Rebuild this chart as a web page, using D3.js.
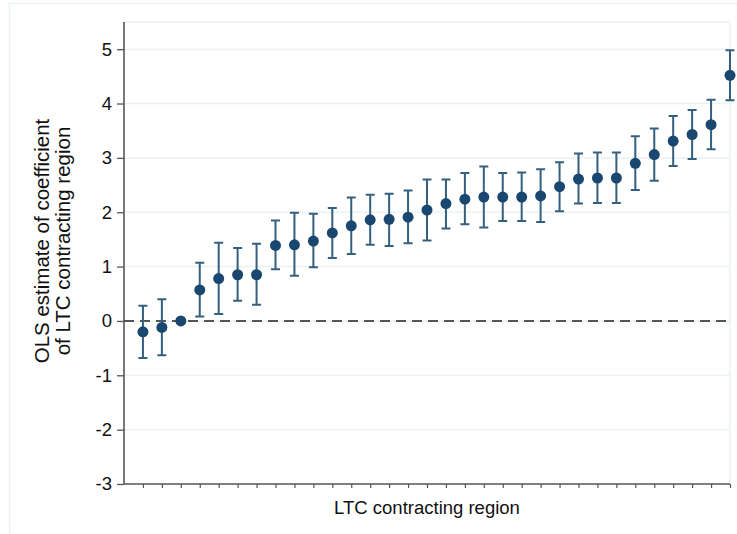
<!DOCTYPE html>
<html><head><meta charset="utf-8">
<script src="https://cdn.jsdelivr.net/npm/d3@7"></script>
<style>body{margin:0;background:#fff}svg{display:block;font-family:"Liberation Sans",Arial,sans-serif}</style>
</head><body><svg id="c" width="737" height="534"></svg>
<script>
const regions = d3.range(1, 33);
const estimates = [-0.20,-0.12,0.00,0.57,0.78,0.85,0.85,1.39,1.40,1.47,1.62,1.75,1.86,1.87,1.91,2.04,2.16,2.24,2.28,2.28,2.28,2.30,2.47,2.61,2.63,2.63,2.90,3.06,3.31,3.43,3.61,4.52];
const lowerCI = [-0.68,-0.63,0.00,0.08,0.13,0.37,0.30,0.95,0.83,0.99,1.16,1.23,1.40,1.38,1.43,1.48,1.70,1.78,1.72,1.84,1.84,1.82,2.02,2.16,2.17,2.17,2.41,2.58,2.85,2.98,3.16,4.06];
const upperCI = [0.28,0.40,0.00,1.07,1.44,1.34,1.42,1.85,1.99,1.97,2.08,2.27,2.32,2.34,2.40,2.60,2.60,2.72,2.84,2.72,2.73,2.79,2.92,3.08,3.10,3.10,3.40,3.54,3.77,3.88,4.07,4.98];
const yTicks = [-3,-2,-1,0,1,2,3,4,5];
const yTickLabels = ["-3","-2","-1","0","1","2","3","4","5"];
const xTitle = "LTC contracting region";
const yTitle = ["OLS estimate of coefficient", "of LTC contracting region"];

const svg = d3.select("#c");
const L = 124, R = 730, T = 22, B = 484;
const x = d3.scaleLinear().domain([0, 32]).range([L, R]);
const y = d3.scaleLinear().domain([-3, 5.5]).range([B, T]);
const grid = "#eaf2f3", navy = "#1a476f";

// outer frame
svg.append("rect").attr("x", 9.5).attr("y", 3.5).attr("width", 760).attr("height", 560)
  .attr("fill", "none").attr("stroke", grid).attr("stroke-width", 1.5);

// grid lines
svg.append("g").selectAll("line").data(yTicks.filter(t => t > -3)).join("line")
  .attr("x1", L).attr("x2", R).attr("y1", d => y(d)).attr("y2", d => y(d))
  .attr("stroke", grid).attr("stroke-width", 1.5);
// plot region border (top/right)
svg.append("path").attr("d", `M${L},${y(5.5)}H${R}V${B}`).attr("fill", "none")
  .attr("stroke", grid).attr("stroke-width", 1.5);

// zero dashed line
svg.append("line").attr("x1", L).attr("x2", R).attr("y1", y(0)).attr("y2", y(0))
  .attr("stroke", "#222").attr("stroke-width", 1.5).attr("stroke-dasharray", "10,6");

// y axis
const yAxis = d3.axisLeft(y).tickValues(yTicks).tickSize(7).tickPadding(5)
  .tickFormat((d, i) => yTickLabels[i]);
const gy = svg.append("g").attr("transform", `translate(${L},0)`).call(yAxis);
gy.select(".domain").attr("stroke", "#555").attr("stroke-width", 1.6).attr("d", `M0,${B}V${T}`);
gy.selectAll(".tick line").attr("stroke", "#555").attr("stroke-width", 1.3);
gy.selectAll(".tick text").attr("font-size", 18.5).attr("fill", "#111").attr("font-family", "Liberation Sans, Arial, sans-serif");

// x axis
const xAxis = d3.axisBottom(x).tickValues(regions).tickSize(4).tickFormat("");
const gx = svg.append("g").attr("transform", `translate(0,${B})`).call(xAxis);
gx.select(".domain").attr("stroke", "#555").attr("stroke-width", 1.6).attr("d", `M${L},0H${R}`);
gx.selectAll(".tick line").attr("stroke", "#555").attr("stroke-width", 1.2);

// error bars
const eb = svg.append("g").attr("stroke", "#34607f").attr("stroke-width", 2).attr("fill", "none");
regions.forEach((r, i) => {
  if (upperCI[i] === lowerCI[i]) return;
  const cx = x(r);
  eb.append("path").attr("d",
    `M${cx},${y(upperCI[i])}V${y(lowerCI[i])}M${cx-4.5},${y(upperCI[i])}H${cx+4.5}M${cx-4.5},${y(lowerCI[i])}H${cx+4.5}`);
});

// points
svg.append("g").selectAll("circle").data(regions).join("circle")
  .attr("cx", d => x(d)).attr("cy", (d, i) => y(estimates[i])).attr("r", 5.5).attr("fill", navy);

// titles
svg.append("text").attr("x", (L + R) / 2).attr("y", 514).attr("text-anchor", "middle")
  .attr("font-size", 18.5).attr("fill", "#111").text(xTitle);
const yt = svg.append("text").attr("transform", `translate(49,241) rotate(-90)`)
  .attr("text-anchor", "middle").attr("font-size", 20.5).attr("fill", "#111");
yt.selectAll("tspan").data(yTitle).join("tspan").attr("x", 0).attr("dy", (d, i) => i ? 21 : 0).text(d => d);
</script></body></html>
